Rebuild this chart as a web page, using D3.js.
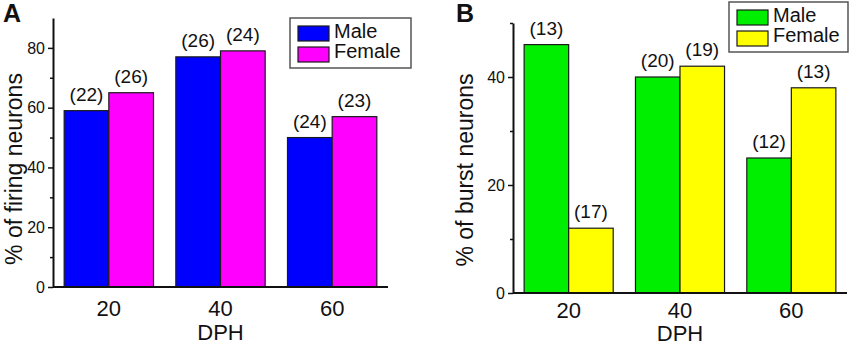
<!DOCTYPE html>
<html>
<head>
<meta charset="utf-8">
<script src="https://cdn.jsdelivr.net/npm/d3@7"></script>
<style>
  body { margin: 0; background: #fff; }
  svg { display: block; font-family: "Liberation Sans", Arial, sans-serif; }
</style>
</head>
<body>
<div id="chart"></div>
<script>
// data
const ages = ['20', '40', '60']
const sexes = ['Male', 'Female']

const firingMale = [59, 77, 50]
const firingFemale = [65, 79, 57]
const firingNMale = ['(22)', '(26)', '(24)']
const firingNFemale = ['(26)', '(24)', '(23)']

const burstMale = [46, 40, 25]
const burstFemale = [12, 42, 38]
const burstNMale = ['(13)', '(20)', '(12)']
const burstNFemale = ['(17)', '(19)', '(13)']

const svg = d3.select('#chart').append('svg')
  .attr('width', 850)
  .attr('height', 346)

function drawPanel(opt) {
  const g = svg.append('g')

  const x = d3.scaleBand().domain(ages)
    .range([opt.left, opt.right])
    .paddingInner(0.2).paddingOuter(0.1)
  const xs = d3.scaleBand().domain(sexes).range([0, x.bandwidth()])
  const y = d3.scaleLinear().domain(opt.yDomain).range([opt.bottom, opt.top])

  const rows = []
  ages.forEach((a, i) => {
    rows.push({ age: a, sex: 'Male', v: opt.male[i], n: opt.nMale[i] })
    rows.push({ age: a, sex: 'Female', v: opt.female[i], n: opt.nFemale[i] })
  })

  // bars
  g.selectAll('rect.bar').data(rows).enter().append('rect')
    .attr('class', 'bar')
    .attr('x', d => x(d.age) + xs(d.sex))
    .attr('width', xs.bandwidth())
    .attr('y', d => y(d.v))
    .attr('height', d => y(0) - y(d.v))
    .attr('fill', d => d.sex === 'Male' ? opt.colors[0] : opt.colors[1])
    .attr('stroke', '#1a1a1a')
    .attr('stroke-width', 1.2)

  // n labels
  g.selectAll('text.n').data(rows).enter().append('text')
    .attr('class', 'n')
    .attr('x', d => x(d.age) + xs(d.sex) + xs.bandwidth() / 2)
    .attr('y', d => y(d.v) - 10)
    .attr('text-anchor', 'middle')
    .style('font-size', '19px')
    .attr('fill', '#111')
    .text(d => d.n)

  // y axis, minor ticks first
  const minor = g.append('g')
    .attr('transform', `translate(${opt.left},0)`)
    .call(d3.axisLeft(y).tickValues(opt.minorTicks).tickSize(3).tickFormat(''))
  minor.select('.domain').remove()
  minor.selectAll('line').attr('stroke', '#111').attr('stroke-width', 1.5)

  const yAxis = g.append('g')
    .attr('transform', `translate(${opt.left},0)`)
    .call(d3.axisLeft(y).tickValues(opt.majorTicks).tickSize(5).tickSizeOuter(0).tickPadding(3))
  yAxis.select('.domain').attr('stroke', '#111').attr('stroke-width', 2)
  yAxis.selectAll('line').attr('stroke', '#111').attr('stroke-width', 1.5)
  yAxis.selectAll('text')
    .style('font-size', '16px')
    .style('font-family', '"Liberation Sans", Arial, sans-serif')
    .attr('fill', '#111')

  // x axis
  const xAxis = g.append('g')
    .attr('transform', `translate(0,${opt.bottom})`)
    .call(d3.axisBottom(x).tickSize(0).tickPadding(10))
  xAxis.select('.domain')
    .attr('stroke', '#111').attr('stroke-width', 2)
    .attr('d', `M${opt.left},0H${opt.right}`)
  xAxis.selectAll('text')
    .attr('dy', 0)
    .attr('y', opt.tickY - opt.bottom)
    .style('font-size', '22px')
    .style('font-family', '"Liberation Sans", Arial, sans-serif')
    .attr('fill', '#111')

  g.append('text')
    .attr('x', (opt.left + opt.right) / 2)
    .attr('y', opt.dphY)
    .attr('text-anchor', 'middle')
    .style('font-size', '22px')
    .attr('fill', '#111')
    .text('DPH')

  // y title
  g.append('text')
    .attr('transform', `translate(${opt.titleX},${opt.titleCY}) rotate(-90)`)
    .attr('text-anchor', 'middle')
    .style('font-size', '23px')
    .attr('fill', '#111')
    .text(opt.yTitle)

  // panel letter
  g.append('text')
    .attr('x', opt.letterX)
    .attr('y', 22)
    .style('font-size', '25px')
    .style('font-weight', 'bold')
    .attr('fill', '#111')
    .text(opt.letter)

  // legend
  const lg = g.append('g').attr('transform', `translate(${opt.legend[0]},${opt.legend[1]})`)
  lg.append('rect')
    .attr('width', opt.legendW).attr('height', 50)
    .attr('fill', '#fff').attr('stroke', '#555').attr('stroke-width', 1.5)
  sexes.forEach((s, i) => {
    lg.append('rect')
      .attr('x', 8).attr('y', 8 + i * 21)
      .attr('width', 31).attr('height', 15)
      .attr('fill', opt.colors[i])
      .attr('stroke', '#1a1a1a').attr('stroke-width', 1.2)
    lg.append('text')
      .attr('x', 44).attr('y', 20 + i * 20)
      .style('font-size', '20px')
      .attr('fill', '#111')
      .text(s)
  })
}

drawPanel({
  letter: 'A', letterX: 3,
  left: 53, right: 388, top: 18, bottom: 287,
  yDomain: [0, 90], majorTicks: [0, 20, 40, 60, 80], minorTicks: [10, 30, 50, 70],
  male: firingMale, female: firingFemale, nMale: firingNMale, nFemale: firingNFemale,
  colors: ['#0000ff', '#ff00ff'],
  yTitle: '% of firing neurons', titleX: 22, titleCY: 169,
  tickY: 316, dphY: 340,
  legend: [290, 18], legendW: 121
})

drawPanel({
  letter: 'B', letterX: 456,
  left: 513, right: 847, top: 23, bottom: 293,
  yDomain: [0, 50], majorTicks: [0, 20, 40], minorTicks: [10, 30, 50],
  male: burstMale, female: burstFemale, nMale: burstNMale, nFemale: burstNFemale,
  colors: ['#00ee00', '#ffff00'],
  yTitle: '% of burst neurons', titleX: 473, titleCY: 170,
  tickY: 318, dphY: 341,
  legend: [729, 2], legendW: 119
})
</script>
</body>
</html>
